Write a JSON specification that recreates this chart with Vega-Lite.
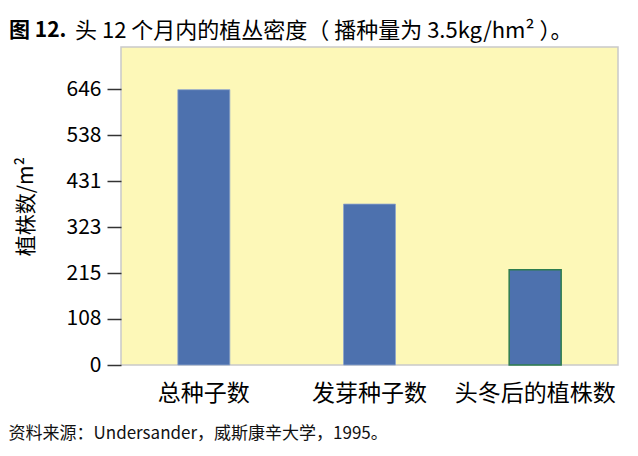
{
  "$schema": "https://vega.github.io/schema/vega-lite/v6.json",
  "description": "头 12 个月内的植丛密度",
  "autosize": {"type": "none"},
  "width": 497,
  "height": 318,
  "padding": {"left": 121, "top": 47, "right": 20, "bottom": 91},
  "background": "white",
  "title": {
    "text": "图 12.",
    "subtitle": "\u200b\u3000\u3000\u3000头 12 个月内的植丛密度（ 播种量为 3.5kg/hm² ）。",
    "anchor": "start",
    "frame": "group",
    "dx": -112,
    "offset": 5,
    "font": "Noto Sans CJK SC",
    "fontSize": 21,
    "fontWeight": "bold",
    "color": "#000000",
    "subtitleFont": "Noto Sans CJK SC",
    "subtitleFontSize": 22,
    "subtitleFontWeight": "normal",
    "subtitleColor": "#000000",
    "subtitlePadding": -20
  },
  "data": {
    "values": [
      {"category": "总种子数", "count": 645},
      {"category": "发芽种子数", "count": 377},
      {"category": "头冬后的植株数", "count": 223}
    ]
  },
  "mark": {"type": "bar", "size": 52, "color": "#4D71AE"},
  "encoding": {
    "x": {
      "field": "category",
      "type": "nominal",
      "sort": null,
      "scale": {"paddingInner": 0, "paddingOuter": 0},
      "axis": {
        "title": "资料来源：Undersander，威斯康辛大学，1995。",
        "titleFont": "Noto Sans CJK SC",
        "titleFontSize": 17,
        "titleFontWeight": "normal",
        "titleColor": "#111111",
        "titleAnchor": "start",
        "titleAlign": "left",
        "titleBaseline": "middle",
        "titleX": -113,
        "titleY": 68,
        "labelAngle": 0,
        "labelFont": "Noto Sans CJK SC",
        "labelFontSize": 23,
        "labelColor": "#000000",
        "labelPadding": 17,
        "ticks": false,
        "domain": false
      }
    },
    "y": {
      "field": "count",
      "type": "quantitative",
      "scale": {"domain": [0, 745], "nice": false},
      "axis": {
        "title": "植株数/m²",
        "titleFont": "Noto Sans CJK SC",
        "titleFontSize": 21,
        "titleFontWeight": "normal",
        "titleColor": "#000000",
        "titlePadding": 30,
        "values": [0, 108, 215, 323, 431, 538, 646],
        "labelFont": "Noto Sans CJK SC",
        "labelFontSize": 21,
        "labelColor": "#000000",
        "labelPadding": 6,
        "tickSize": 14,
        "tickColor": "#333333",
        "tickWidth": 1.5,
        "grid": false,
        "domain": false
      }
    },
    "stroke": {
      "condition": {"test": "datum.category === '头冬后的植株数'", "value": "#2E7D4F"},
      "value": "#8FA6CC"
    },
    "strokeWidth": {
      "condition": {"test": "datum.category === '头冬后的植株数'", "value": 1.5},
      "value": 0.8
    }
  },
  "config": {
    "view": {"fill": "#FDF8B8", "stroke": "#C9C9C9", "strokeWidth": 1.5}
  }
}
